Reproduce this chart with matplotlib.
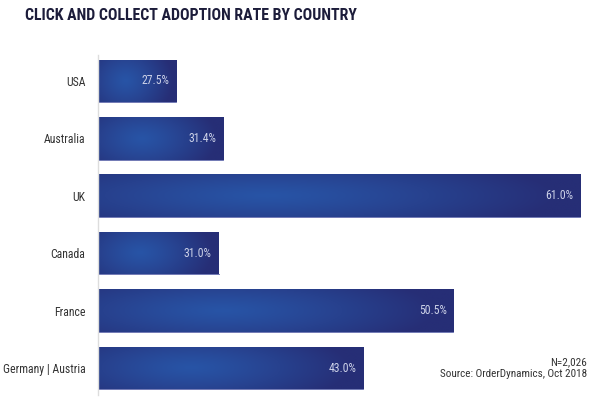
import numpy as np
import matplotlib
matplotlib.use("Agg")
import matplotlib.pyplot as plt

# data
countries = ["USA", "Australia", "UK", "Canada", "France", "Germany | Austria"]
rates = [27.5, 31.4, 61.0, 31.0, 50.5, 43.0]
labels = ["27.5%", "31.4%", "61.0%", "31.0%", "50.5%", "43.0%"]

title = "CLICK AND COLLECT ADOPTION RATE BY COUNTRY"
note_n = "N=2,026"
note_src = "Source: OrderDynamics, Oct 2018"

narrow = ["Roboto Condensed", "Archivo Narrow", "DejaVu Sans"]

dark = np.array([38, 46, 118]) / 255.0
light = np.array([40, 84, 166]) / 255.0


def gradient(nx=300, ny=60, cx=0.35):
    u = np.linspace(0, 1, nx)[None, :]
    v = np.linspace(0, 1, ny)[:, None]
    d = np.sqrt(((u - cx) / 0.6) ** 2 + ((v - 0.5) / 1.0) ** 2)
    d = np.clip(d, 0, 1) ** 1.2
    return light[None, None, :] + (dark - light)[None, None, :] * d[:, :, None]


fig = plt.figure(figsize=(6, 4.01), dpi=100)
ax = fig.add_axes([98 / 600, 1 - 395 / 401, 500 / 600, 340 / 401])

x0 = 21.0
ax.set_xlim(x0, x0 + 500 / 12.05)
ax.set_ylim(len(countries) - 0.53, -0.45)

y = np.arange(len(countries))
bars = ax.barh(y, rates, height=0.74, color="none", edgecolor="none")

for b, val, lab in zip(bars, rates, labels):
    yb = b.get_y()
    h = b.get_height()
    im = ax.imshow(gradient(), extent=(x0, val, yb + h, yb), aspect="auto",
                   interpolation="bilinear", zorder=2)
    im.set_clip_path(b)
    # faint lighter line along the bottom edge of each bar
    ax.plot([x0, val], [yb + h, yb + h], color="#5a63a8", lw=0.6, zorder=2.5)
    ax.text(val - 0.55, yb + h / 2, lab, ha="right", va="center",
            color="#cdd2e8", fontsize=8.5, family=narrow, zorder=3)

ax.set_yticks(y)
ax.set_yticklabels(countries, family=narrow, fontsize=8.5, color="#333333")
ax.tick_params(axis="y", length=0, pad=9)
ax.set_xticks([])
for s in ["top", "right", "bottom"]:
    ax.spines[s].set_visible(False)
ax.spines["left"].set_color("#dddddd")
ax.spines["left"].set_linewidth(1.0)

fig.text(25 / 600, 1 - 16 / 401, title, ha="left", va="center",
         family=narrow, fontweight="bold", fontsize=11.4, color="#1c1c3a")
fig.text(587 / 600, 1 - 362 / 401, note_n, ha="right", va="center",
         family=narrow, fontsize=8, color="#333333")
fig.text(587 / 600, 1 - 374 / 401, note_src, ha="right", va="center",
         family=narrow, fontsize=8, color="#333333")

fig.savefig("out.png", dpi=100)
